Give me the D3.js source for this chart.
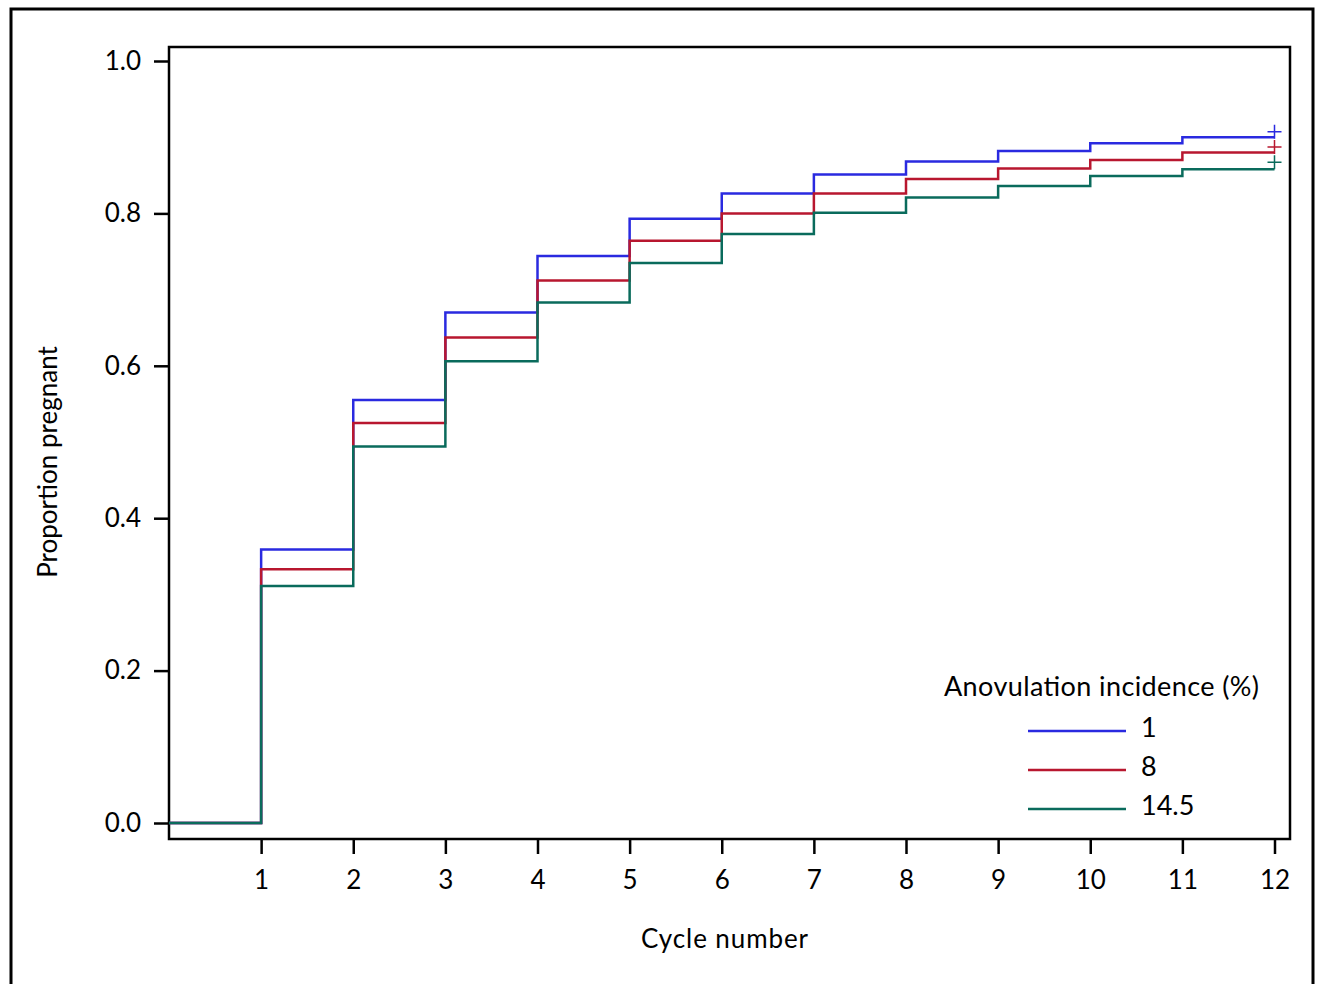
<!DOCTYPE html>
<html>
<head>
<meta charset="utf-8">
<style>
  body { margin: 0; background: #fff; }
  text { font-family: Lato, "Open Sans", sans-serif; fill: #000; }
</style>
</head>
<body>
<svg width="1318" height="984"></svg>
<script src="https://d3js.org/d3.v7.min.js"></script>
<script>

// Data
var cycles = [0, 1, 2, 3, 4, 5, 6, 7, 8, 9, 10, 11, 12];
var incidence1 = [0, 0.359, 0.555, 0.670, 0.744, 0.793, 0.826, 0.851, 0.868, 0.882, 0.892, 0.900, 0.900];
var incidence8 = [0, 0.333, 0.525, 0.637, 0.712, 0.764, 0.800, 0.826, 0.845, 0.859, 0.870, 0.880, 0.880];
var incidence145 = [0, 0.311, 0.494, 0.606, 0.683, 0.735, 0.773, 0.801, 0.821, 0.836, 0.849, 0.858, 0.858];
var censorValues = [0.907, 0.887, 0.867];
var seriesNames = ["1", "8", "14.5"];
var seriesColors = ["#2a2ae0", "#b8172f", "#0a6b5c"];
var xTicks = [1, 2, 3, 4, 5, 6, 7, 8, 9, 10, 11, 12];
var yTicks = [0, 0.2, 0.4, 0.6, 0.8, 1.0];

var svg = d3.select("svg"),
    box = {left: 169, top: 47, right: 1290, bottom: 839};

// outer frame
svg.append("rect")
    .attr("x", 11).attr("y", 9)
    .attr("width", 1302).attr("height", 1010)
    .attr("fill", "none").attr("stroke", "#000").attr("stroke-width", 3);

var x = d3.scaleLinear().domain([0, 12]).range([box.left, 1274.5]);
var y = d3.scaleLinear().domain([0, 1]).range([823, 61]);

// axes
var xAxis = svg.append("g")
    .attr("transform", "translate(0," + box.bottom + ")")
    .call(d3.axisBottom(x).tickValues(xTicks).tickSize(15).tickPadding(17).tickFormat(d3.format("d")));
var yAxis = svg.append("g")
    .attr("transform", "translate(" + box.left + ",0)")
    .call(d3.axisLeft(y).tickValues(yTicks).tickSize(15).tickPadding(13).tickFormat(d3.format(".1f")));

[xAxis, yAxis].forEach(function(a) {
  a.select(".domain").remove();
  a.selectAll(".tick line").attr("stroke", "#000").attr("stroke-width", 2.5);
  a.selectAll(".tick text").style("font-size", "26px").attr("fill", "#000");
});

// plot box
svg.append("rect")
    .attr("x", box.left).attr("y", box.top)
    .attr("width", box.right - box.left).attr("height", box.bottom - box.top)
    .attr("fill", "none").attr("stroke", "#000").attr("stroke-width", 2.5);

// step lines
var line = d3.line()
    .curve(d3.curveStepAfter)
    .x(function(d) { return x(d[0]); })
    .y(function(d) { return y(d[1]); });

[incidence1, incidence8, incidence145].forEach(function(vals, i) {
  svg.append("path")
      .datum(cycles.map(function(c, j) { return [c, vals[j]]; }))
      .attr("fill", "none")
      .attr("stroke", seriesColors[i])
      .attr("stroke-width", 2.5)
      .attr("d", line);

  // censor marker
  var cx = x(12), cy = y(censorValues[i]);
  svg.append("path")
      .attr("d", "M" + (cx - 7) + "," + cy + "H" + (cx + 7) + "M" + cx + "," + (cy - 7) + "V" + (cy + 7))
      .attr("stroke", seriesColors[i])
      .attr("stroke-width", 1.5);
});

// axis titles
svg.append("text")
    .attr("x", 641).attr("y", 948)
    .attr("textLength", 167)
    .style("font-size", "26px")
    .text("Cycle number");

svg.append("text")
    .attr("transform", "translate(57,462) rotate(-90)")
    .attr("text-anchor", "middle")
    .style("font-size", "26px")
    .text("Proportion pregnant");

// legend
var legend = svg.append("g");
legend.append("text")
    .attr("x", 944).attr("y", 696)
    .attr("textLength", 315)
    .style("font-size", "27px")
    .text("Anovulation incidence (%)");

seriesNames.forEach(function(name, i) {
  var ly = 731 + i * 39;
  legend.append("line")
      .attr("x1", 1028).attr("x2", 1126)
      .attr("y1", ly).attr("y2", ly)
      .attr("stroke", seriesColors[i])
      .attr("stroke-width", 2.5);
  legend.append("text")
      .attr("x", 1141).attr("y", ly + 6)
      .style("font-size", "27px")
      .text(name);
});

</script>
</body>
</html>
